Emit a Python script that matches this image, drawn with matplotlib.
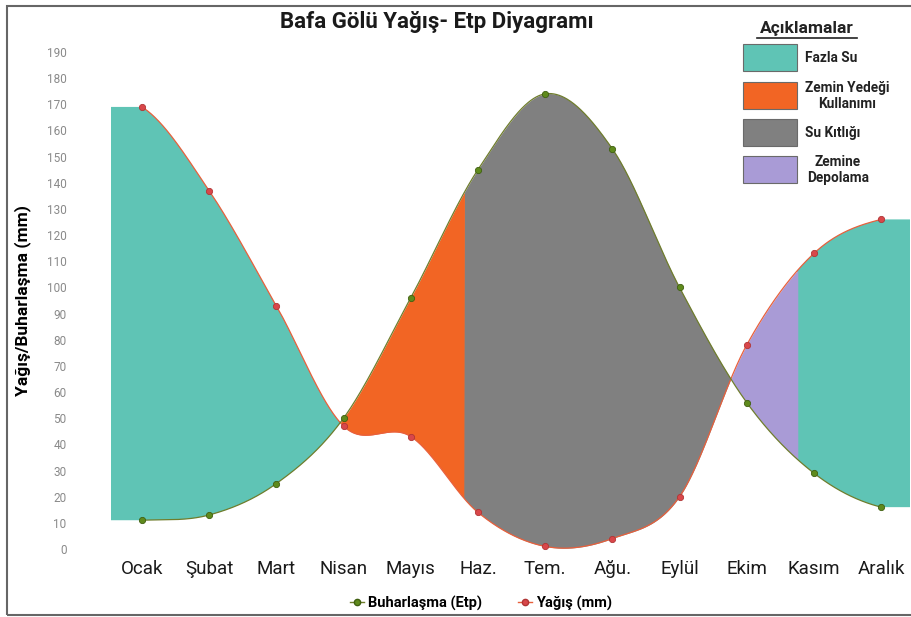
import numpy as np
import matplotlib.pyplot as plt
from matplotlib.lines import Line2D
from matplotlib.patches import Rectangle

# data
months = ['Ocak', 'Şubat', 'Mart', 'Nisan', 'Mayıs', 'Haz.', 'Tem.', 'Ağu.', 'Eylül', 'Ekim', 'Kasım', 'Aralık']
yagis = [169, 137, 93, 47, 43, 14, 1, 4, 20, 78, 113, 126]
etp = [11, 13, 25, 50, 96, 145, 174, 153, 100, 56, 29, 16]
yticks = list(range(0, 200, 10))

# where the coloured zones change (month index)
split_orange_grey = 4.8
split_purple_teal = 9.76
x_left, x_right = -0.46, 11.43

c_teal = '#5fc4b5'
c_orange = '#f26524'
c_grey = '#808080'
c_purple = '#a99bd6'


def smooth(vals, n=100):
    # catmull-rom, like excel smoothed lines
    p = np.r_[vals[0], vals, vals[-1]]
    xs, ys = [], []
    t = np.linspace(0, 1, n, endpoint=False)
    for i in range(len(vals) - 1):
        p0, p1, p2, p3 = p[i:i + 4]
        ys.append(0.5 * (2 * p1 + (-p0 + p2) * t + (2 * p0 - 5 * p1 + 4 * p2 - p3) * t ** 2
                         + (-p0 + 3 * p1 - 3 * p2 + p3) * t ** 3))
        xs.append(i + t)
    xs.append([len(vals) - 1])
    ys.append([vals[-1]])
    return np.concatenate(xs), np.concatenate(ys)


xs, ry = smooth(yagis)
_, gy = smooth(etp)

# flat extension at both ends for the fills
xf = np.r_[x_left, xs, x_right]
rf = np.r_[yagis[0], ry, yagis[-1]]
gf = np.r_[etp[0], gy, etp[-1]]
d = rf - gf

fig = plt.figure(figsize=(9.11, 6.17), dpi=100)
W, H = 911, 617
ax = fig.add_axes([111 / W, 1 - 549 / H, (910 - 111) / W, (549 - 52) / H])
ax.set_xlim(x_left, x_right)
ax.set_ylim(0, 190)

ax.fill_between(xf, rf, gf, where=(d >= 0) & ((xf <= split_orange_grey) | (xf >= split_purple_teal)),
                interpolate=True, color=c_teal, lw=0, clip_on=False)
ax.fill_between(xf, rf, gf, where=(d <= 0) & (xf <= split_orange_grey),
                interpolate=True, color=c_orange, lw=0, clip_on=False)
ax.fill_between(xf, rf, gf, where=(d <= 0) & (xf >= split_orange_grey),
                interpolate=True, color=c_grey, lw=0, clip_on=False)
ax.fill_between(xf, rf, gf, where=(d >= 0) & (xf >= split_orange_grey) & (xf <= split_purple_teal),
                interpolate=True, color=c_purple, lw=0, clip_on=False)

ax.plot(xs, ry, color='#e8603c', lw=0.9, clip_on=False)
ax.plot(xs, gy, color='#6f7d2c', lw=0.9, clip_on=False)
ax.plot(range(12), yagis, 'o', ms=4.5, mfc='#d9474a', mec='#b03535', mew=0.6, clip_on=False, zorder=5)
ax.plot(range(12), etp, 'o', ms=4.5, mfc='#5f8a1c', mec='#3f5f10', mew=0.6, clip_on=False, zorder=5)

for s in ax.spines.values():
    s.set_visible(False)
ax.set_yticks(yticks)
ax.set_yticklabels([str(v) for v in yticks], color='#8a8a8a', fontsize=8.5, family='Roboto')
ax.set_xticks(range(12))
ax.set_xticklabels(months, fontsize=13.5, family='Roboto', color='#1a1a1a')
ax.tick_params(axis='y', length=0, pad=32)
ax.tick_params(axis='x', length=0, pad=8)
ax.set_ylabel('Yağış/Buharlaşma (mm)', fontsize=12.5, fontweight='bold', family='Roboto')
ax.yaxis.set_label_coords(-(111 - 31) / 799, 0.5)

fig.text(437 / W, 1 - 22 / H, 'Bafa Gölü Yağış- Etp Diyagramı', ha='center', va='center',
         fontsize=16, fontweight='bold', family='Roboto', color='#1a1a1a')

# Açıklamalar box
fig.text(807 / W, 1 - 29 / H, 'Açıklamalar', ha='center', va='center', fontsize=12.5,
         fontweight='bold', family='Roboto', color='#222222')
fig.add_artist(Line2D([757 / W, 857 / W], [1 - 38 / H, 1 - 38 / H], color='#222222', lw=1.2))
keys = [(c_teal, 'Fazla Su', 44, 831), (c_orange, 'Zemin Yedeği\nKullanımı', 82, 847),
        (c_grey, 'Su Kıtlığı', 119, 833), (c_purple, 'Zemine\nDepolama', 156, 838)]
for col, lab, top, cx in keys:
    fig.add_artist(Rectangle((743 / W, 1 - (top + 27) / H), 54 / W, 27 / H, facecolor=col,
                             edgecolor='#6a6a6a', lw=0.8))
    fig.text(cx / W, 1 - (top + 14) / H, lab, ha='center', va='center', fontsize=9.8,
             fontweight='bold', family='Roboto', color='#222222', linespacing=1.2)

# bottom legend
handles = [Line2D([], [], color='#6f7d2c', lw=1, marker='o', ms=4.5, mfc='#5f8a1c', mec='#3f5f10'),
           Line2D([], [], color='#e8603c', lw=1, marker='o', ms=4.5, mfc='#d9474a', mec='#b03535')]
fig.legend(handles, ['Buharlaşma (Etp)', 'Yağış (mm)'], loc='center', bbox_to_anchor=(481 / W, 1 - 603 / H),
           ncol=2, frameon=False, handlelength=1.0, handletextpad=0.3, columnspacing=2.4,
           prop={'family': 'Roboto', 'weight': 'bold', 'size': 10.5})

# frame round the picture
fig.add_artist(Rectangle((7 / W, 1 - 615 / H), 910 / W, 609 / H, fill=False, edgecolor='#666666', lw=1.5))

fig.savefig('out.png', dpi=100)
